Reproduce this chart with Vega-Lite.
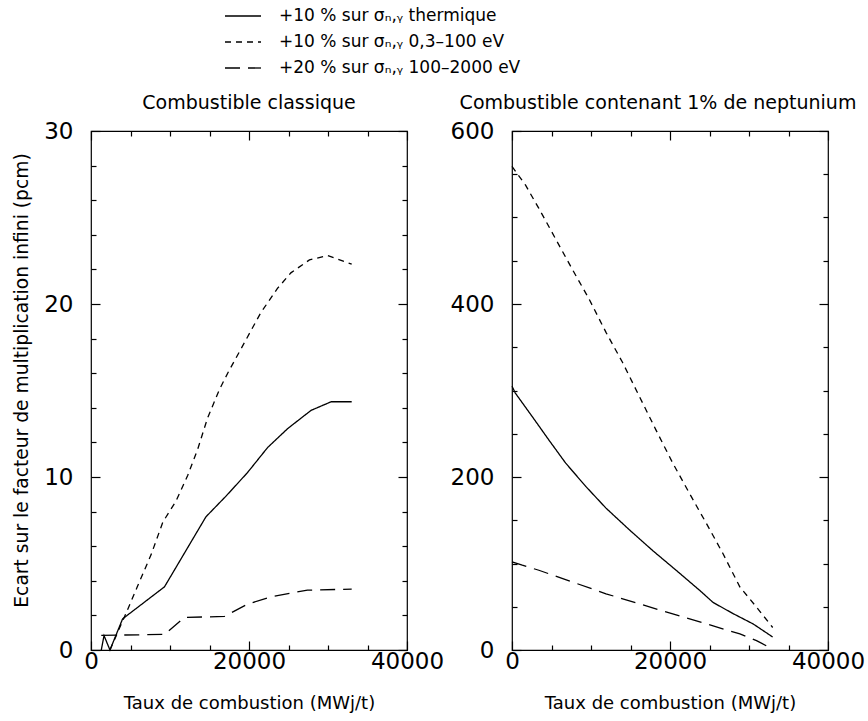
{
  "$schema": "https://vega.github.io/schema/vega-lite/v6.json",
  "background": "white",
  "padding": {"left": 12, "top": 5, "right": 5, "bottom": 5},
  "config": {
    "font": "DejaVu Sans",
    "view": {"stroke": "black", "strokeWidth": 1.2},
    "axis": {
      "grid": false,
      "domain": false,
      "ticks": true,
      "zindex": 1,
      "tickColor": "black",
      "labelColor": "black",
      "titleColor": "black",
      "labelFont": "DejaVu Sans",
      "titleFont": "DejaVu Sans",
      "titleFontWeight": "normal",
      "labelFontSize": 23,
      "titleFontSize": 18,
      "labelFlush": false,
      "labelOverlap": false,
      "tickWidth": 1.2
    },
    "title": {"font": "DejaVu Sans", "fontSize": 19, "fontWeight": "normal", "color": "black", "offset": 7},
    "concat": {"spacing": 4}
  },
  "datasets": {
    "curves": [
      {"panel": "classique", "serie": "+10 % sur σₙ,ᵧ thermique", "x": 1300, "y": 0},
      {"panel": "classique", "serie": "+10 % sur σₙ,ᵧ thermique", "x": 1650, "y": 0.83},
      {"panel": "classique", "serie": "+10 % sur σₙ,ᵧ thermique", "x": 2400, "y": 0},
      {"panel": "classique", "serie": "+10 % sur σₙ,ᵧ thermique", "x": 4000, "y": 1.8},
      {"panel": "classique", "serie": "+10 % sur σₙ,ᵧ thermique", "x": 9300, "y": 3.65},
      {"panel": "classique", "serie": "+10 % sur σₙ,ᵧ thermique", "x": 14550, "y": 7.7},
      {"panel": "classique", "serie": "+10 % sur σₙ,ᵧ thermique", "x": 17100, "y": 8.9},
      {"panel": "classique", "serie": "+10 % sur σₙ,ᵧ thermique", "x": 19800, "y": 10.25},
      {"panel": "classique", "serie": "+10 % sur σₙ,ᵧ thermique", "x": 22350, "y": 11.7},
      {"panel": "classique", "serie": "+10 % sur σₙ,ᵧ thermique", "x": 24900, "y": 12.8},
      {"panel": "classique", "serie": "+10 % sur σₙ,ᵧ thermique", "x": 27850, "y": 13.85},
      {"panel": "classique", "serie": "+10 % sur σₙ,ᵧ thermique", "x": 30400, "y": 14.35},
      {"panel": "classique", "serie": "+10 % sur σₙ,ᵧ thermique", "x": 33000, "y": 14.35},

      {"panel": "classique", "serie": "+10 % sur σₙ,ᵧ 0,3–100 eV", "x": 2400, "y": 0},
      {"panel": "classique", "serie": "+10 % sur σₙ,ᵧ 0,3–100 eV", "x": 4600, "y": 2.3},
      {"panel": "classique", "serie": "+10 % sur σₙ,ᵧ 0,3–100 eV", "x": 5900, "y": 3.7},
      {"panel": "classique", "serie": "+10 % sur σₙ,ᵧ 0,3–100 eV", "x": 7600, "y": 5.5},
      {"panel": "classique", "serie": "+10 % sur σₙ,ᵧ 0,3–100 eV", "x": 9100, "y": 7.4},
      {"panel": "classique", "serie": "+10 % sur σₙ,ᵧ 0,3–100 eV", "x": 10750, "y": 8.6},
      {"panel": "classique", "serie": "+10 % sur σₙ,ᵧ 0,3–100 eV", "x": 12250, "y": 10.1},
      {"panel": "classique", "serie": "+10 % sur σₙ,ᵧ 0,3–100 eV", "x": 13500, "y": 11.6},
      {"panel": "classique", "serie": "+10 % sur σₙ,ᵧ 0,3–100 eV", "x": 14750, "y": 13.4},
      {"panel": "classique", "serie": "+10 % sur σₙ,ᵧ 0,3–100 eV", "x": 16250, "y": 15.05},
      {"panel": "classique", "serie": "+10 % sur σₙ,ᵧ 0,3–100 eV", "x": 17300, "y": 16.0},
      {"panel": "classique", "serie": "+10 % sur σₙ,ᵧ 0,3–100 eV", "x": 19400, "y": 17.75},
      {"panel": "classique", "serie": "+10 % sur σₙ,ᵧ 0,3–100 eV", "x": 21500, "y": 19.5},
      {"panel": "classique", "serie": "+10 % sur σₙ,ᵧ 0,3–100 eV", "x": 23600, "y": 20.9},
      {"panel": "classique", "serie": "+10 % sur σₙ,ᵧ 0,3–100 eV", "x": 25300, "y": 21.8},
      {"panel": "classique", "serie": "+10 % sur σₙ,ᵧ 0,3–100 eV", "x": 27650, "y": 22.55},
      {"panel": "classique", "serie": "+10 % sur σₙ,ᵧ 0,3–100 eV", "x": 29950, "y": 22.8},
      {"panel": "classique", "serie": "+10 % sur σₙ,ᵧ 0,3–100 eV", "x": 33000, "y": 22.3},

      {"panel": "classique", "serie": "+20 % sur σₙ,ᵧ 100–2000 eV", "x": 1300, "y": 0.85},
      {"panel": "classique", "serie": "+20 % sur σₙ,ᵧ 100–2000 eV", "x": 9300, "y": 0.9},
      {"panel": "classique", "serie": "+20 % sur σₙ,ᵧ 100–2000 eV", "x": 11800, "y": 1.88},
      {"panel": "classique", "serie": "+20 % sur σₙ,ᵧ 100–2000 eV", "x": 16900, "y": 1.94},
      {"panel": "classique", "serie": "+20 % sur σₙ,ᵧ 100–2000 eV", "x": 19800, "y": 2.65},
      {"panel": "classique", "serie": "+20 % sur σₙ,ᵧ 100–2000 eV", "x": 22800, "y": 3.08},
      {"panel": "classique", "serie": "+20 % sur σₙ,ᵧ 100–2000 eV", "x": 27400, "y": 3.46},
      {"panel": "classique", "serie": "+20 % sur σₙ,ᵧ 100–2000 eV", "x": 33000, "y": 3.52},

      {"panel": "neptunium", "serie": "+10 % sur σₙ,ᵧ thermique", "x": 0, "y": 305},
      {"panel": "neptunium", "serie": "+10 % sur σₙ,ᵧ thermique", "x": 420, "y": 297},
      {"panel": "neptunium", "serie": "+10 % sur σₙ,ᵧ thermique", "x": 2550, "y": 270},
      {"panel": "neptunium", "serie": "+10 % sur σₙ,ᵧ thermique", "x": 4650, "y": 243},
      {"panel": "neptunium", "serie": "+10 % sur σₙ,ᵧ thermique", "x": 6800, "y": 216},
      {"panel": "neptunium", "serie": "+10 % sur σₙ,ᵧ thermique", "x": 9350, "y": 189},
      {"panel": "neptunium", "serie": "+10 % sur σₙ,ᵧ thermique", "x": 11900, "y": 164},
      {"panel": "neptunium", "serie": "+10 % sur σₙ,ᵧ thermique", "x": 14850, "y": 139},
      {"panel": "neptunium", "serie": "+10 % sur σₙ,ᵧ thermique", "x": 17800, "y": 115},
      {"panel": "neptunium", "serie": "+10 % sur σₙ,ᵧ thermique", "x": 20800, "y": 92},
      {"panel": "neptunium", "serie": "+10 % sur σₙ,ᵧ thermique", "x": 23750, "y": 69},
      {"panel": "neptunium", "serie": "+10 % sur σₙ,ᵧ thermique", "x": 25450, "y": 55},
      {"panel": "neptunium", "serie": "+10 % sur σₙ,ᵧ thermique", "x": 28000, "y": 42},
      {"panel": "neptunium", "serie": "+10 % sur σₙ,ᵧ thermique", "x": 30550, "y": 30},
      {"panel": "neptunium", "serie": "+10 % sur σₙ,ᵧ thermique", "x": 33000, "y": 15},

      {"panel": "neptunium", "serie": "+10 % sur σₙ,ᵧ 0,3–100 eV", "x": 0, "y": 559},
      {"panel": "neptunium", "serie": "+10 % sur σₙ,ᵧ 0,3–100 eV", "x": 1700, "y": 537.6},
      {"panel": "neptunium", "serie": "+10 % sur σₙ,ᵧ 0,3–100 eV", "x": 3400, "y": 510.5},
      {"panel": "neptunium", "serie": "+10 % sur σₙ,ᵧ 0,3–100 eV", "x": 5500, "y": 475.6},
      {"panel": "neptunium", "serie": "+10 % sur σₙ,ᵧ 0,3–100 eV", "x": 7600, "y": 440.7},
      {"panel": "neptunium", "serie": "+10 % sur σₙ,ᵧ 0,3–100 eV", "x": 9750, "y": 405.9},
      {"panel": "neptunium", "serie": "+10 % sur σₙ,ᵧ 0,3–100 eV", "x": 11900, "y": 367.2},
      {"panel": "neptunium", "serie": "+10 % sur σₙ,ᵧ 0,3–100 eV", "x": 14000, "y": 332.3},
      {"panel": "neptunium", "serie": "+10 % sur σₙ,ᵧ 0,3–100 eV", "x": 16100, "y": 293.6},
      {"panel": "neptunium", "serie": "+10 % sur σₙ,ᵧ 0,3–100 eV", "x": 18200, "y": 254.8},
      {"panel": "neptunium", "serie": "+10 % sur σₙ,ᵧ 0,3–100 eV", "x": 20350, "y": 216.1},
      {"panel": "neptunium", "serie": "+10 % sur σₙ,ᵧ 0,3–100 eV", "x": 22450, "y": 181.3},
      {"panel": "neptunium", "serie": "+10 % sur σₙ,ᵧ 0,3–100 eV", "x": 24600, "y": 146.4},
      {"panel": "neptunium", "serie": "+10 % sur σₙ,ᵧ 0,3–100 eV", "x": 26700, "y": 111.5},
      {"panel": "neptunium", "serie": "+10 % sur σₙ,ᵧ 0,3–100 eV", "x": 28850, "y": 72.8},
      {"panel": "neptunium", "serie": "+10 % sur σₙ,ᵧ 0,3–100 eV", "x": 30950, "y": 49.6},
      {"panel": "neptunium", "serie": "+10 % sur σₙ,ᵧ 0,3–100 eV", "x": 33000, "y": 26},

      {"panel": "neptunium", "serie": "+20 % sur σₙ,ᵧ 100–2000 eV", "x": 0, "y": 102},
      {"panel": "neptunium", "serie": "+20 % sur σₙ,ᵧ 100–2000 eV", "x": 1300, "y": 98},
      {"panel": "neptunium", "serie": "+20 % sur σₙ,ᵧ 100–2000 eV", "x": 3400, "y": 92.2},
      {"panel": "neptunium", "serie": "+20 % sur σₙ,ᵧ 100–2000 eV", "x": 7650, "y": 78.6},
      {"panel": "neptunium", "serie": "+20 % sur σₙ,ᵧ 100–2000 eV", "x": 11900, "y": 65},
      {"panel": "neptunium", "serie": "+20 % sur σₙ,ᵧ 100–2000 eV", "x": 16100, "y": 53.4},
      {"panel": "neptunium", "serie": "+20 % sur σₙ,ᵧ 100–2000 eV", "x": 20350, "y": 41.8},
      {"panel": "neptunium", "serie": "+20 % sur σₙ,ᵧ 100–2000 eV", "x": 24600, "y": 30.2},
      {"panel": "neptunium", "serie": "+20 % sur σₙ,ᵧ 100–2000 eV", "x": 28850, "y": 18.6},
      {"panel": "neptunium", "serie": "+20 % sur σₙ,ᵧ 100–2000 eV", "x": 30950, "y": 10.8},
      {"panel": "neptunium", "serie": "+20 % sur σₙ,ᵧ 100–2000 eV", "x": 33000, "y": 1}
    ]
  },
  "hconcat": [
    {
      "width": 316,
      "height": 519,
      "title": "Combustible classique",
      "data": {"name": "curves"},
      "transform": [{"filter": "datum.panel === 'classique'"}],
      "encoding": {
        "x": {"field": "x", "type": "quantitative", "scale": {"domain": [0, 40000], "nice": false}},
        "y": {"field": "y", "type": "quantitative", "scale": {"domain": [0, 30], "nice": false}}
      },
      "layer": [
        {
          "mark": {"type": "line", "color": "black", "strokeWidth": 1.3},
          "encoding": {
            "x": {"field": "x", "type": "quantitative", "axis": {
              "values": [0, 20000, 40000], "format": "d", "offset": -9, "tickSize": 9, "labelPadding": 0,
              "title": "Taux de combustion (MWj/t)", "titlePadding": 21}},
            "y": {"field": "y", "type": "quantitative", "axis": {
              "values": [0, 10, 20, 30], "offset": -9, "tickSize": 9, "labelPadding": 18,
              "title": "Ecart sur le facteur de multiplication infini (pcm)", "titleFontSize": 18.7,
              "titleY": 249, "titlePadding": 12}},
            "strokeDash": {
              "field": "serie", "type": "nominal",
              "scale": {
                "domain": ["+10 % sur σₙ,ᵧ thermique", "+10 % sur σₙ,ᵧ 0,3–100 eV", "+20 % sur σₙ,ᵧ 100–2000 eV"],
                "range": [[1, 0], [6, 5], [15, 8]]
              },
              "legend": {
                "orient": "none",
                "legendX": 141,
                "legendY": -126,
                "title": null,
                "symbolType": "M-1.8,0H1.8",
                "symbolSize": 400,
                "symbolStrokeWidth": 1.3,
                "symbolStrokeColor": "black",
                "symbolFillColor": "transparent",
                "labelFont": "DejaVu Sans",
                "labelFontSize": 17,
                "labelColor": "black",
                "labelLimit": 0,
                "labelOffset": 25,
                "rowPadding": 7
              }
            }
          }
        },
        {
          "mark": {"type": "line", "strokeOpacity": 0},
          "encoding": {
            "x": {"field": "x", "type": "quantitative", "axis": {
              "orient": "top", "values": [0, 20000, 40000], "offset": -9, "tickSize": 9, "labels": false, "title": null}},
            "y": {"field": "y", "type": "quantitative", "axis": {
              "orient": "right", "values": [0, 10, 20, 30], "offset": -9, "tickSize": 9, "labels": false, "title": null}},
            "detail": {"field": "serie"}
          }
        },
        {
          "mark": {"type": "line", "strokeOpacity": 0},
          "encoding": {
            "x": {"field": "x", "type": "quantitative", "axis": {
              "orient": "bottom", "values": [5000, 10000, 15000, 25000, 30000, 35000], "tickSize": -5, "labels": false, "title": null}},
            "y": {"field": "y", "type": "quantitative", "axis": {
              "orient": "left", "values": [2, 4, 6, 8, 12, 14, 16, 18, 22, 24, 26, 28], "tickSize": -5, "labels": false, "title": null}},
            "detail": {"field": "serie"}
          }
        },
        {
          "mark": {"type": "line", "strokeOpacity": 0},
          "encoding": {
            "x": {"field": "x", "type": "quantitative", "axis": {
              "orient": "top", "values": [5000, 10000, 15000, 25000, 30000, 35000], "offset": -5, "tickSize": 5, "labels": false, "title": null}},
            "y": {"field": "y", "type": "quantitative", "axis": {
              "orient": "right", "values": [2, 4, 6, 8, 12, 14, 16, 18, 22, 24, 26, 28], "offset": -5, "tickSize": 5, "labels": false, "title": null}},
            "detail": {"field": "serie"}
          }
        }
      ],
      "resolve": {"axis": {"x": "independent", "y": "independent"}}
    },
    {
      "width": 316,
      "height": 519,
      "title": {"text": "Combustible contenant 1% de neptunium", "dx": -12},
      "data": {"name": "curves"},
      "transform": [{"filter": "datum.panel === 'neptunium'"}],
      "encoding": {
        "x": {"field": "x", "type": "quantitative", "scale": {"domain": [0, 40000], "nice": false}},
        "y": {"field": "y", "type": "quantitative", "scale": {"domain": [0, 600], "nice": false}}
      },
      "layer": [
        {
          "mark": {"type": "line", "color": "black", "strokeWidth": 1.3},
          "encoding": {
            "x": {"field": "x", "type": "quantitative", "axis": {
              "values": [0, 20000, 40000], "format": "d", "offset": -9, "tickSize": 9, "labelPadding": 0,
              "title": "Taux de combustion (MWj/t)", "titlePadding": 21}},
            "y": {"field": "y", "type": "quantitative", "axis": {
              "values": [0, 200, 400, 600], "offset": -9, "tickSize": 9, "labelPadding": 18, "title": null}},
            "strokeDash": {"field": "serie", "type": "nominal"}
          }
        },
        {
          "mark": {"type": "line", "strokeOpacity": 0},
          "encoding": {
            "x": {"field": "x", "type": "quantitative", "axis": {
              "orient": "top", "values": [0, 20000, 40000], "offset": -9, "tickSize": 9, "labels": false, "title": null}},
            "y": {"field": "y", "type": "quantitative", "axis": {
              "orient": "right", "values": [0, 200, 400, 600], "offset": -9, "tickSize": 9, "labels": false, "title": null}},
            "detail": {"field": "serie"}
          }
        },
        {
          "mark": {"type": "line", "strokeOpacity": 0},
          "encoding": {
            "x": {"field": "x", "type": "quantitative", "axis": {
              "orient": "bottom", "values": [5000, 10000, 15000, 25000, 30000, 35000], "tickSize": -5, "labels": false, "title": null}},
            "y": {"field": "y", "type": "quantitative", "axis": {
              "orient": "left", "values": [50, 100, 150, 250, 300, 350, 450, 500, 550], "tickSize": -5, "labels": false, "title": null}},
            "detail": {"field": "serie"}
          }
        },
        {
          "mark": {"type": "line", "strokeOpacity": 0},
          "encoding": {
            "x": {"field": "x", "type": "quantitative", "axis": {
              "orient": "top", "values": [5000, 10000, 15000, 25000, 30000, 35000], "offset": -5, "tickSize": 5, "labels": false, "title": null}},
            "y": {"field": "y", "type": "quantitative", "axis": {
              "orient": "right", "values": [50, 100, 150, 250, 300, 350, 450, 500, 550], "offset": -5, "tickSize": 5, "labels": false, "title": null}},
            "detail": {"field": "serie"}
          }
        }
      ],
      "resolve": {"axis": {"x": "independent", "y": "independent"}}
    }
  ]
}
